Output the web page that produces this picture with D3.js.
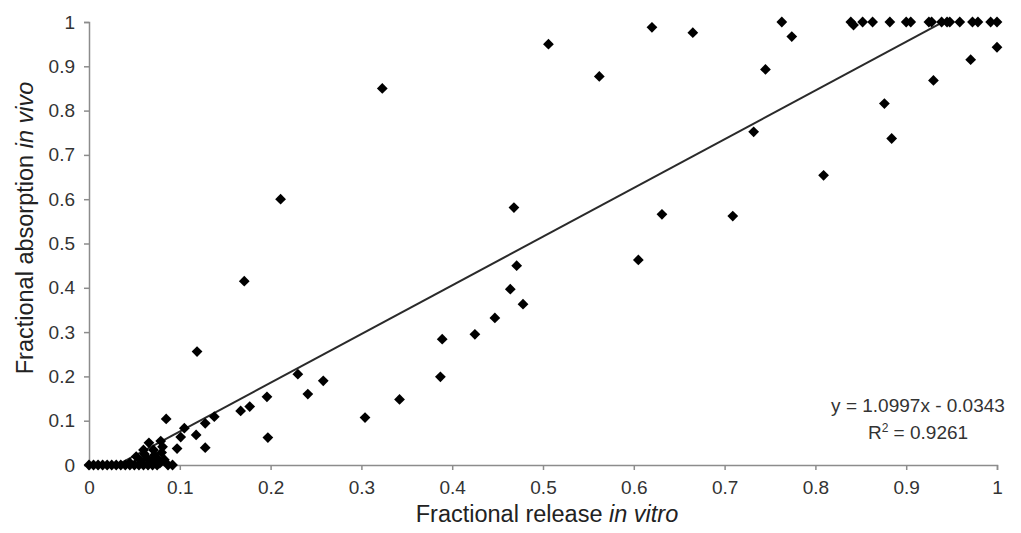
<!DOCTYPE html>
<html>
<head>
<meta charset="utf-8">
<script src="https://cdn.jsdelivr.net/npm/d3@7"></script>
<style>
  body { margin: 0; background: #fff; }
  svg { display: block; font-family: "Liberation Sans", Arial, sans-serif; }
  .axis path, .axis line { stroke: #8c8c8c; stroke-width: 1.5; }
  .axis text { fill: #333; font-size: 19px; }
</style>
</head>
<body>
<svg></svg>
<script>
// fractional release in vitro (x) vs fractional absorption in vivo (y)
var releaseX = [
  0, 0.005, 0.01, 0.015, 0.02, 0.025, 0.03, 0.035, 0.04, 0.045, 0.05, 0.055, 0.06, 0.065, 0.07, 0.075, 0.087, 0.092,
  0.052, 0.064, 0.075, 0.078, 0.045, 0.060, 0.071, 0.066, 0.079, 0.061, 0.068, 0.072, 0.083, 0.057, 0.080, 0.081,
  0.097, 0.101, 0.105, 0.085, 0.118, 0.128, 0.128, 0.138, 0.119, 0.167, 0.177, 0.196, 0.197, 0.171, 0.211,
  0.230, 0.241, 0.258, 0.304, 0.323, 0.342, 0.387, 0.389, 0.425, 0.447, 0.464, 0.468, 0.471, 0.478,
  0.506, 0.562, 0.605, 0.620, 0.631, 0.665, 0.709, 0.732, 0.745, 0.763, 0.774, 0.809, 0.876, 0.884,
  0.930, 0.971, 1.0,
  0.839, 0.842, 0.852, 0.863, 0.882, 0.900, 0.905, 0.925, 0.928, 0.939, 0.945, 0.948, 0.959, 0.973, 0.979, 0.993, 1.0
];
var absorptionY = [
  0, 0, 0, 0, 0, 0, 0, 0, 0, 0, 0, 0, 0, 0, 0, 0, 0, 0,
  0.019, 0.015, 0.015, 0.004, 0.005, 0.034, 0.034, 0.050, 0.054, 0.025, 0.008, 0.022, 0.012, 0.010, 0.028, 0.041,
  0.037, 0.063, 0.083, 0.104, 0.068, 0.094, 0.039, 0.109, 0.256, 0.122, 0.132, 0.154, 0.062, 0.415, 0.600,
  0.205, 0.160, 0.190, 0.107, 0.850, 0.148, 0.199, 0.284, 0.295, 0.332, 0.397, 0.581, 0.450, 0.363,
  0.950, 0.877, 0.463, 0.988, 0.566, 0.976, 0.562, 0.752, 0.893, 1.0, 0.967, 0.654, 0.816, 0.737,
  0.868, 0.915, 0.943,
  1, 0.993, 1, 1, 1, 1, 1, 1, 1, 1, 1, 1, 1, 1, 1, 1, 1
];
var xTicks = [0, 0.1, 0.2, 0.3, 0.4, 0.5, 0.6, 0.7, 0.8, 0.9, 1];
var yTicks = [0, 0.1, 0.2, 0.3, 0.4, 0.5, 0.6, 0.7, 0.8, 0.9, 1];
var slope = 1.0997, intercept = -0.0343;
var eqText = "y = 1.0997x - 0.0343";
var r2Value = "0.9261";

var width = 1021, height = 533;
var svg = d3.select("svg").attr("width", width).attr("height", height);

var xScale = d3.scaleLinear().domain([0, 1]).range([89, 997]);
var yScale = d3.scaleLinear().domain([0, 1]).range([465, 22]);

var fmt = d => d === 0 || d === 1 ? String(d) : d3.format(".1f")(d);

svg.append("g")
   .attr("class", "axis")
   .attr("transform", "translate(0," + yScale(0) + ")")
   .call(d3.axisBottom(xScale).tickValues(xTicks).tickFormat(fmt).tickSizeOuter(0).tickSize(5).tickPadding(11));

svg.append("g")
   .attr("class", "axis")
   .attr("transform", "translate(" + xScale(0) + ",0)")
   .call(d3.axisLeft(yScale).tickValues(yTicks).tickFormat(fmt).tickSizeOuter(0).tickSize(5).tickPadding(9));

// clip trendline to plot area
svg.append("clipPath").attr("id", "plot")
   .append("rect")
   .attr("x", xScale(0)).attr("y", yScale(1))
   .attr("width", xScale(1) - xScale(0)).attr("height", yScale(0) - yScale(1));

svg.append("line")
   .attr("clip-path", "url(#plot)")
   .attr("x1", xScale(0)).attr("y1", yScale(intercept))
   .attr("x2", xScale(1)).attr("y2", yScale(slope + intercept))
   .attr("stroke", "#2a2a2a")
   .attr("stroke-width", 2);

var pts = releaseX.map((x, i) => ({x: x, y: absorptionY[i]}));

svg.selectAll(".pt")
  .data(pts)
  .enter()
  .append("path")
    .attr("class", "pt")
    .attr("d", d3.symbol(d3.symbolSquare, 58))
    .attr("transform", d => "translate(" + xScale(d.x) + "," + yScale(d.y) + ") rotate(45)")
    .attr("fill", "#000");

// axis titles
var xt = svg.append("text")
   .attr("x", 547).attr("y", 522)
   .attr("text-anchor", "middle")
   .style("font-size", "23.5px").style("fill", "#222");
xt.append("tspan").text("Fractional release ");
xt.append("tspan").style("font-style", "italic").text("in vitro");

var yt = svg.append("text")
   .attr("transform", "translate(33,228) rotate(-90)")
   .attr("text-anchor", "middle")
   .style("font-size", "23.5px").style("fill", "#222");
yt.append("tspan").text("Fractional absorption ");
yt.append("tspan").style("font-style", "italic").text("in vivo");

// regression equation
svg.append("text")
   .attr("x", 918).attr("y", 412)
   .attr("text-anchor", "middle")
   .style("font-size", "19px").style("fill", "#333")
   .text(eqText);

var r2 = svg.append("text")
   .attr("x", 918).attr("y", 439)
   .attr("text-anchor", "middle")
   .style("font-size", "19px").style("fill", "#333");
r2.append("tspan").text("R");
r2.append("tspan").attr("dy", -7).style("font-size", "12px").text("2");
r2.append("tspan").attr("dy", 7).text(" = " + r2Value);
</script>
</body>
</html>
